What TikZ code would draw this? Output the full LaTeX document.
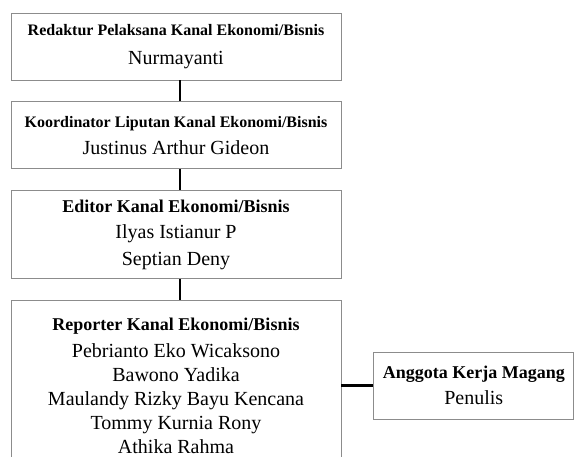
\documentclass[tikz,border=0pt]{standalone}
\usepackage{fontspec}
\setmainfont{Liberation Serif}
\usetikzlibrary{positioning}

\newcommand{\jabatan}[2][16]{{\fontsize{#1}{#1}\selectfont\bfseries #2}}

\begin{document}
\begin{tikzpicture}[node distance=21pt,
    box/.style={draw=black!45, line width=0.8pt, rectangle, minimum width=330pt,
      align=center, inner sep=0pt, font=\fontsize{20}{26}\selectfont},
    link/.style={draw=black, line width=2.4pt}]
    \clip (0,0) rectangle (574pt,-456pt);
    \node[box, minimum height=67pt] (redaktur) at (176pt,-46.5pt)
      {\jabatan{Redaktur Pelaksana Kanal Ekonomi/Bisnis}\\[3pt] Nurmayanti};
    \node[box, minimum height=67pt] (koordinator) [below=of redaktur]
      {\jabatan{Koordinator Liputan Kanal Ekonomi/Bisnis}\\[1pt] Justinus Arthur Gideon};
    \node[box, minimum height=88pt] (editor) [below=of koordinator]
      {\jabatan[18]{Editor Kanal Ekonomi/Bisnis}\\ Ilyas Istianur P\\[1pt] Septian Deny};
    \node[box, minimum height=170pt] (reporter) [below=of editor]
      {\jabatan[18]{Reporter Kanal Ekonomi/Bisnis}\\[1pt] Pebrianto Eko Wicaksono\\[-2pt]
       Bawono Yadika\\[-2pt] Maulandy Rizky Bayu Kencana\\[-2pt] Tommy Kurnia Rony\\[-2pt] Athika Rahma};
    \node[box, minimum width=200pt, minimum height=67pt] (magang) [right=32pt of reporter]
      {\jabatan[18]{Anggota Kerja Magang}\\ Penulis};

    \draw[link] ([xshift=4pt]redaktur.south) -- ([xshift=4pt]koordinator.north);
    \draw[link] ([xshift=4pt]koordinator.south) -- ([xshift=4pt]editor.north);
    \draw[link] ([xshift=4pt]editor.south) -- ([xshift=4pt]reporter.north);
    \draw[link] (reporter.east) -- (magang.west);
\end{tikzpicture}
\end{document}
